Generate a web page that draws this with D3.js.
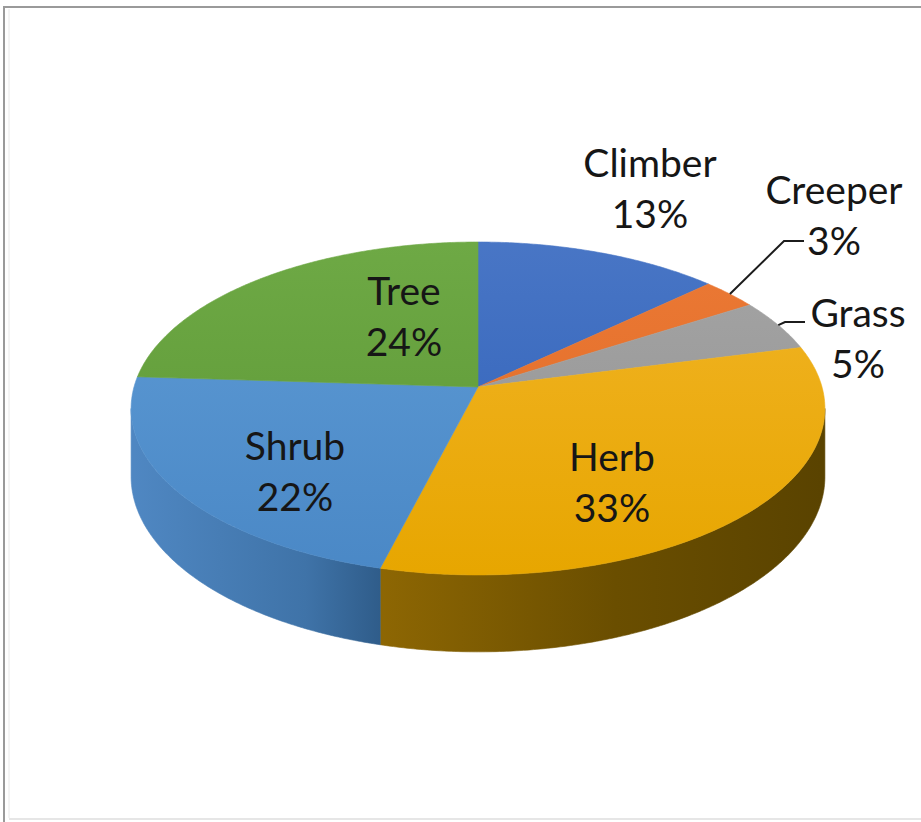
<!DOCTYPE html>
<html>
<head>
<meta charset="utf-8">
<script src="https://cdn.jsdelivr.net/npm/d3@7"></script>
<style>
  html, body { margin: 0; padding: 0; background: #ffffff; }
  svg { display: block; }
</style>
</head>
<body>
<svg id="chart" width="921" height="822"></svg>
<script>
// ---- data ----
const categories = ["Climber", "Creeper", "Grass", "Herb", "Shrub", "Tree"];
const values     = [13, 3, 5, 33, 22, 24];
const percentLabels = ["13%", "3%", "5%", "33%", "22%", "24%"];

// ---- styles ----
const topLight = ["#4a77c6", "#ec7a36", "#a6a6a6", "#f2b52a", "#5f9cd6", "#6faa46"];
const topDark  = ["#2d5fb8", "#df6a25", "#919191", "#e7a600", "#4a88c6", "#5b9634"];
const wallLight = ["#2f5ca8", "#b8541a", "#7a7a7a", "#8f6804", "#5189c3", "#4e8230"];
const wallDark  = ["#24487f", "#8c3f12", "#5c5c5c", "#5b4400", "#2d5a86", "#3a6424"];

// label layout (text anchor centers, first-line baselines)
const labelLayout = {
  Climber: { x: 650, y: 177, leader: false },
  Creeper: { x: 834, y: 204, leader: true },
  Grass:   { x: 858, y: 327, leader: true },
  Herb:    { x: 612, y: 471, leader: false },
  Shrub:   { x: 295, y: 460, leader: false },
  Tree:    { x: 404, y: 305, leader: false }
};
const lineGap = 51;

// ---- geometry of the tilted disc ----
const W = 921, H = 822;
const cx = 478, cy = 387;   // projected centre of the disc
const a = 344, b = 163.7;   // semi axes before perspective
const k = 0.129;            // perspective strength
const depth = 67;           // thickness (scaled by perspective)

function proj(theta, r, bottom) {
  const u = r * Math.sin(theta), v = -r * Math.cos(theta);
  const w = 1 - k * v;
  return [cx + a * u / w, cy + (b * v + (bottom ? depth : 0)) / w];
}
function arcPts(t0, t1, bottom) {
  const n = Math.max(2, Math.ceil(Math.abs(t1 - t0) / (Math.PI / 360)));
  return d3.range(n + 1).map(i => proj(t0 + (t1 - t0) * i / n, 1, bottom));
}

const svg = d3.select("#chart");
const defs = svg.append("defs");

// frame
svg.append("line").attr("x1", 9).attr("y1", 819).attr("x2", 921).attr("y2", 819)
  .attr("stroke", "#e6e6e6").attr("stroke-width", 2);
svg.append("line").attr("x1", 9).attr("y1", 9).attr("x2", 9).attr("y2", 818)
  .attr("stroke", "#e8e8e8").attr("stroke-width", 1);
svg.append("path").attr("d", "M4,822V7H921")
  .attr("fill", "none").attr("stroke", "#9a9a9a").attr("stroke-width", 2);

const pie = d3.pie().sort(null).value(d => d).startAngle(0).endAngle(2 * Math.PI);
const arcs = pie(values);

const line = d3.line();

// gradients
categories.forEach((c, i) => {
  const gt = defs.append("linearGradient").attr("id", "top" + i)
    .attr("gradientUnits", "userSpaceOnUse")
    .attr("x1", 0).attr("y1", cy - b).attr("x2", 0).attr("y2", cy + b * 1.15);
  gt.append("stop").attr("offset", 0).attr("stop-color", topLight[i]);
  gt.append("stop").attr("offset", 1).attr("stop-color", topDark[i]);
  const gw = defs.append("linearGradient").attr("id", "wall" + i)
    .attr("gradientUnits", "userSpaceOnUse")
    .attr("x1", cx - a).attr("y1", 0).attr("x2", cx + a).attr("y2", 0);
  gw.append("stop").attr("offset", 0).attr("stop-color", wallLight[i]);
  gw.append("stop").attr("offset", 0.45).attr("stop-color", d3.interpolateRgb(wallLight[i], wallDark[i])(0.55));
  gw.append("stop").attr("offset", 1).attr("stop-color", wallDark[i]);
});
(function () {
  const g = defs.select("#wall3");
  g.selectAll("stop").remove();
  g.append("stop").attr("offset", 0.35).attr("stop-color", "#8e6703");
  g.append("stop").attr("offset", 0.7).attr("stop-color", "#6a4e00");
  g.append("stop").attr("offset", 1).attr("stop-color", "#5a4300");
  const s = defs.select("#wall4");
  s.selectAll("stop").remove();
  s.append("stop").attr("offset", 0).attr("stop-color", "#4f87c2");
  s.append("stop").attr("offset", 0.25).attr("stop-color", "#3f73a8");
  s.append("stop").attr("offset", 0.38).attr("stop-color", "#2c5884");
})();

// visible wall range (front half)
const thL = Math.acos(-k);
const thR = 2 * Math.PI - Math.acos(-k);

const walls = svg.append("g");
arcs.forEach((d, i) => {
  const s = Math.max(d.startAngle, thL), e = Math.min(d.endAngle, thR);
  if (e <= s) return;
  const pts = arcPts(s, e, false).concat(arcPts(e, s, true));
  walls.append("path").attr("d", line(pts) + "Z")
    .attr("fill", `url(#wall${i})`).attr("stroke", `url(#wall${i})`).attr("stroke-width", 0.6);
});

const tops = svg.append("g");
arcs.forEach((d, i) => {
  const pts = [[cx, cy]].concat(arcPts(d.startAngle, d.endAngle, false));
  tops.append("path").attr("d", line(pts) + "Z")
    .attr("fill", `url(#top${i})`).attr("stroke", `url(#top${i})`).attr("stroke-width", 0.6);
});

// labels
const font = "Lato, 'Open Sans', sans-serif";
const labels = svg.append("g").attr("font-family", font).attr("font-size", 39)
  .attr("fill", "#161616").attr("text-anchor", "middle");
arcs.forEach((d, i) => {
  const L = labelLayout[categories[i]];
  labels.append("text").attr("x", L.x).attr("y", L.y).text(categories[i]);
  labels.append("text").attr("x", L.x).attr("y", L.y + lineGap).text(percentLabels[i]);
  if (L.leader) {
    const mid = (d.startAngle + d.endAngle) / 2;
    const p0 = proj(mid, 1, false);
    const pctY = L.y + lineGap - 14;
    const yEnd = i === 1 ? pctY : L.y - 5;
    const xEnd = i === 1 ? L.x - 30 : L.x - 53;
    const p1 = [xEnd - 20, yEnd];
    labels.append("path").attr("d", line([p0, p1, [xEnd, yEnd]]))
      .attr("fill", "none").attr("stroke", "#1c1c1c").attr("stroke-width", 2);
  }
});
</script>
</body>
</html>
